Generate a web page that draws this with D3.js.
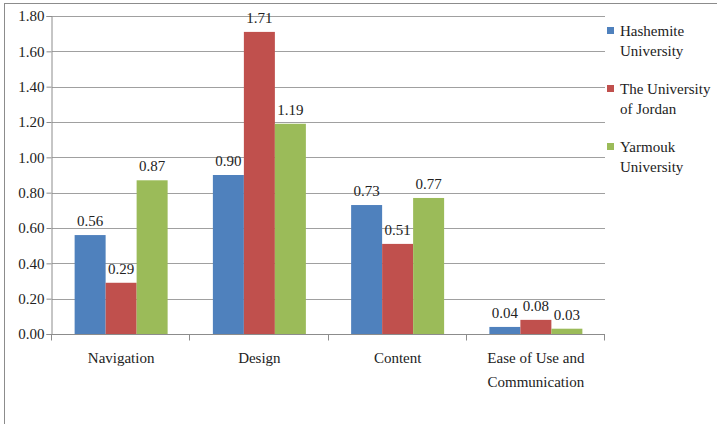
<!DOCTYPE html>
<html>
<head>
<meta charset="utf-8">
<script src="https://cdn.jsdelivr.net/npm/d3@7"></script>
<style>
  body { margin: 0; background: #fff; }
</style>
</head>
<body>
<div id="chart"></div>
<script>
'use strict';

var categories = ['Navigation', 'Design', 'Content', 'Ease of Use and Communication'];
var categoryLines = [['Navigation'], ['Design'], ['Content'], ['Ease of Use and', 'Communication']];
var seriesNames = ['Hashemite University', 'The University of Jordan', 'Yarmouk University'];
var legendLines = [['Hashemite', 'University'], ['The University', 'of Jordan'], ['Yarmouk', 'University']];
var hashemite = [0.56, 0.90, 0.73, 0.04];
var jordan = [0.29, 1.71, 0.51, 0.08];
var yarmouk = [0.87, 1.19, 0.77, 0.03];
var yTicks = [0, 0.2, 0.4, 0.6, 0.8, 1.0, 1.2, 1.4, 1.6, 1.8];
var colors = ['#4f81bd', '#c0504d', '#9bbb59'];

var seriesValues = [hashemite, jordan, yarmouk];

var width = 717, height = 424;
var plot = { left: 52, right: 605, top: 16, bottom: 334 };
var serif = '"Liberation Serif"';

// apply the serif face + size to a text selection
var font = function font(sel) {
    sel.style('font-family', serif).style('font-size', '15px').style('fill', '#222');
};

var svg = d3.select('#chart').append('svg')
    .attr('width', width)
    .attr('height', height);

// outer frame
svg.append('rect')
    .attr('x', 4.5).attr('y', 3.5)
    .attr('width', width + 10).attr('height', height + 10)
    .attr('fill', 'none').attr('stroke', '#8c8c8c').attr('stroke-width', 1);

var y = d3.scaleLinear().domain([0, 1.8]).range([plot.bottom, plot.top]);
var x0 = d3.scaleBand().domain(categories).range([plot.left, plot.right]).paddingInner(0).paddingOuter(0);
var x1 = d3.scaleBand().domain(d3.range(seriesNames.length)).range([0, x0.bandwidth()]).paddingInner(0).paddingOuter(0.73);

// gridlines
svg.append('g').selectAll('line').data(yTicks.slice(1)).enter().append('line')
    .attr('x1', plot.left).attr('x2', plot.right)
    .attr('y1', function (d) { return Math.round(y(d)) + 0.5; })
    .attr('y2', function (d) { return Math.round(y(d)) + 0.5; })
    .attr('stroke', '#a0a0a0').attr('stroke-width', 1);

// y axis
var yAxis = d3.axisLeft(y).tickValues(yTicks).tickFormat(d3.format('.2f')).tickSize(5).tickPadding(2);
var yg = svg.append('g').attr('transform', 'translate(' + (plot.left - 0.5) + ',0)').call(yAxis);
yg.select('.domain').attr('stroke', '#8c8c8c');
yg.selectAll('.tick line').attr('stroke', '#8c8c8c');
yg.selectAll('.tick text').call(font);

// bars
var groups = svg.append('g').selectAll('g').data(categories).enter().append('g')
    .attr('transform', function (d) { return 'translate(' + x0(d) + ',0)'; });

groups.selectAll('rect').data(function (d, i) {
    return seriesValues.map(function (s, k) { return { k: k, v: s[i] }; });
}).enter().append('rect')
    .attr('x', function (d) { return x1(d.k); })
    .attr('width', x1.bandwidth())
    .attr('y', function (d) { return y(d.v); })
    .attr('height', function (d) { return y(0) - y(d.v); })
    .attr('fill', function (d) { return colors[d.k]; });

groups.selectAll('text.val').data(function (d, i) {
    return seriesValues.map(function (s, k) { return { k: k, v: s[i] }; });
}).enter().append('text')
    .attr('class', 'val')
    .attr('x', function (d) { return x1(d.k) + x1.bandwidth() / 2; })
    .attr('y', function (d) { return y(d.v) - 9; })
    .attr('text-anchor', 'middle')
    .call(font)
    .text(function (d) { return d.v.toFixed(2); });

// x axis
var xg = svg.append('g').attr('transform', 'translate(0,' + (plot.bottom + 0.5) + ')');
xg.append('line').attr('x1', plot.left - 0.5).attr('x2', plot.right).attr('stroke', '#8c8c8c');
xg.selectAll('line.tk').data(d3.range(categories.length + 1)).enter().append('line')
    .attr('class', 'tk')
    .attr('x1', function (i) { return Math.round(plot.left + i * x0.step()) - 0.5; })
    .attr('x2', function (i) { return Math.round(plot.left + i * x0.step()) - 0.5; })
    .attr('y1', 0).attr('y2', 6).attr('stroke', '#8c8c8c');

xg.selectAll('text').data(categories).enter().append('text')
    .attr('text-anchor', 'middle')
    .attr('x', function (d) { return x0(d) + x0.bandwidth() / 2; })
    .attr('y', 28)
    .call(font)
    .each(function (d, i) {
        var t = d3.select(this);
        categoryLines[i].forEach(function (line, j) {
            t.append('tspan').attr('x', x0(d) + x0.bandwidth() / 2).attr('dy', j === 0 ? 0 : 24).text(line);
        });
    });

// legend
var legend = svg.append('g').attr('transform', 'translate(607,0)');
seriesNames.forEach(function (name, k) {
    var top = 27 + k * 58;
    legend.append('rect').attr('x', 0).attr('y', top).attr('width', 7).attr('height', 7).attr('fill', colors[k]);
    var t = legend.append('text').attr('x', 13).attr('y', top + 9).call(font);
    legendLines[k].forEach(function (line, j) {
        t.append('tspan').attr('x', 13).attr('dy', j === 0 ? 0 : 20).text(line);
    });
});
</script>
</body>
</html>
